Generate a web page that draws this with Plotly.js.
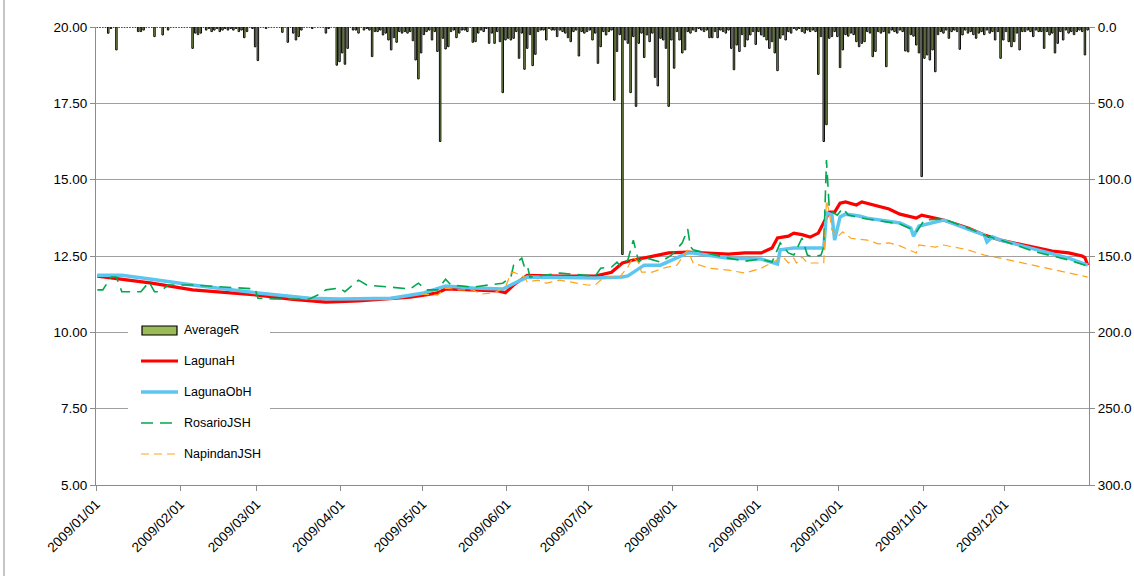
<!DOCTYPE html>
<html>
<head>
<meta charset="utf-8">
<script src="https://cdn.plot.ly/plotly-3.0.1.min.js"></script>
<style>
  html, body { margin: 0; padding: 0; background: #ffffff; }
  #chart { width: 1134px; height: 576px; }
</style>
</head>
<body>
<div id="chart"></div>
<script>
// Daily average rainfall (mm), one array per month of 2009
const rainJan = [0,0,0,0,4.1,1,0,15,0,0,0,0,0,0,0,3,3,2,0,0,0,6.3,0,0,5.2,0,2,0,0,0,0];
const rainFeb = [0,0,0,0,14,4,5,4,0,2,1,3,2,1,3,2,1,2,1,2,1,3,2,7,3,0,1,13];
const rainMar = [22,0,0,1,0,0,0,0,0,3.5,0,10,0,4,8.5,6.3,2,0,0,0,1,0,0,0,0,4,1,0,0,25,22.7];
const rainApr = [17,24.4,14,0,2,2,4,0,2,1,2,19.4,3,3,2,5.2,4,8.5,15,7,10,3,4,3,4,3,9,21.6,34,17];
const rainMay = [5,3,2,8.5,3,16,75,7.4,14.4,12.9,3,2,7,4,2,2,3,0,10,9.6,4,2,3,1,10.7,4,10.7,3,9.6,43,8.5];
const rainJun = [7.4,8.5,7.4,3,20.5,4,27.7,14,5,25.3,17.9,3,2,2,8.5,1,2,2,6.3,2,3,4,7,9.6,3,2,19,3,4,3];
const rainJul = [2,8.5,4,23.8,12.9,3,5.2,3,2,48,16,5,149,8.5,10.7,43,6.3,52,10.7,4,20,5.2,9.6,4,33,38.6,7.4,8.5,14,52,8.5];
const rainAug = [27,3,8.5,17,15,3,4,2,3,1,2,3,2,7,7,3,7,2,3,4,2,14,28,11.8,16,5,12.9,8.5,5.2,3,11.4];
const rainSep = [3,5.2,6.3,8.5,14,9.6,17,28.6,7.4,5.2,8.5,3,4,1,2,1,3,4,2,3,2,3,31,6.3,75,64,7.4,6.3,3,6.3];
const rainOct = [26.6,15,5,6,4,5,9.6,12.9,10.7,9.6,3,4,19.4,16,3,4,3,26,4,2,3,4,2,3,15.7,16.3,5,6,11.8,17,98];
const rainNov = [20.5,18.3,21.6,15,29.3,5,3,4,2,7.4,3,2,3,14.6,5.2,2,4,3,5,7.4,4,3,5,2,4,3,8.5,3,20.5,8.5];
const rainDec = [3,9.6,12.9,9.6,4,15,3,3,2,3,6.3,2,3,3,14,3,5.2,4,17,10.7,3,8.5,2,4,3,5,3,2,3,18.3,2];

// Water levels (m), dated readings (MM-DD of 2009)
const lagunaHDates = ['01-01','01-21','02-05','03-01','03-13','03-26','04-07','04-19','04-26','05-01','05-06','05-09','05-19','05-28','05-31','06-03','06-08','06-20','07-03','07-09','07-13','07-17','07-23','07-30','08-06','08-11','08-21','08-27','09-02','09-06','09-08','09-12','09-14','09-17','09-20','09-23','09-25','09-27','09-29','10-01','10-03','10-07','10-09','10-13','10-19','10-23','10-29','10-31','11-05','11-08','11-17','11-23','11-29','12-06','12-12','12-18','12-24','12-29','12-30','12-31'];
const lagunaHValues = [11.84,11.61,11.39,11.22,11.09,10.99,11.03,11.09,11.15,11.22,11.29,11.42,11.39,11.36,11.30,11.55,11.87,11.84,11.84,11.97,12.27,12.37,12.47,12.60,12.63,12.60,12.56,12.60,12.60,12.76,13.09,13.15,13.25,13.20,13.12,13.25,13.58,13.94,13.94,14.23,14.27,14.17,14.27,14.17,14.04,13.87,13.74,13.84,13.74,13.68,13.42,13.19,13.02,12.89,12.76,12.66,12.60,12.50,12.45,12.20];

const lagunaObHDates = ['01-01','01-10','01-21','02-05','03-01','03-20','03-31','04-19','05-01','05-09','05-19','05-30','06-08','07-03','07-13','07-15','07-21','07-27','08-06','08-08','08-21','09-02','09-08','09-09','09-14','09-25','09-26','09-28','09-29','10-01','10-03','10-08','10-11','10-16','10-23','10-27','10-28','10-30','11-05','11-08','11-17','11-23','11-24','11-26','11-29','12-12','12-24','12-31'];
const lagunaObHValues = [11.87,11.87,11.74,11.55,11.29,11.12,11.09,11.12,11.29,11.52,11.45,11.42,11.81,11.78,11.81,11.85,12.20,12.20,12.60,12.60,12.43,12.40,12.24,12.70,12.76,12.76,13.91,13.85,13.02,13.78,13.87,13.81,13.74,13.68,13.58,13.42,13.15,13.48,13.62,13.68,13.38,13.19,12.96,13.13,13.02,12.70,12.43,12.20];

const rosarioDates = ['01-01','01-03','01-06','01-08','01-10','01-17','01-20','01-22','01-24','01-27','02-05','02-17','02-28','03-01','03-07','03-20','03-23','03-26','03-31','04-02','04-07','04-10','04-19','04-26','04-29','05-02','05-06','05-09','05-11','05-19','05-30','06-02','06-03','06-06','06-07','06-08','06-09','06-14','06-20','07-03','07-05','07-09','07-11','07-12','07-15','07-17','07-19','07-21','07-22','07-27','07-31','08-04','08-06','08-07','08-08','08-21','08-27','09-02','09-06','09-09','09-12','09-14','09-17','09-19','09-21','09-24','09-25','09-26','09-27','09-28','09-30','10-02','10-04','10-11','10-16','10-23','10-28','10-29','11-01','11-08','11-17','11-23','11-29','12-12','12-24','12-31'];
const rosarioValues = [11.39,11.39,11.81,11.81,11.33,11.33,11.65,11.33,11.33,11.55,11.55,11.48,11.42,11.12,11.09,11.09,11.22,11.39,11.45,11.33,11.71,11.55,11.48,11.42,11.61,11.39,11.39,11.74,11.55,11.48,11.61,11.81,12.20,12.43,12.14,12.20,11.81,11.87,11.94,11.84,12.10,12.14,12.30,12.20,12.37,13.02,12.30,12.47,12.43,12.30,12.53,12.93,13.38,12.80,12.70,12.43,12.33,12.40,12.30,12.93,12.60,12.53,13.09,12.53,12.47,12.53,12.80,15.64,14.10,13.94,13.84,14.07,13.84,13.71,13.65,13.55,13.35,13.28,13.68,13.71,13.42,13.19,13.02,12.63,12.37,12.17];

const napindanDates = ['04-30','05-06','05-09','05-14','05-19','05-22','05-27','05-31','06-02','06-03','06-07','06-08','06-12','06-15','06-20','06-24','06-30','07-03','07-05','07-08','07-12','07-15','07-17','07-19','07-20','07-24','07-28','08-02','08-06','08-08','08-14','08-21','08-27','09-02','09-08','09-10','09-12','09-14','09-15','09-17','09-19','09-25','09-26','09-27','09-28','09-30','10-02','10-05','10-11','10-15','10-19','10-23','10-29','10-30','11-05','11-08','11-17','11-23','11-29','12-12','12-24','12-31'];
const napindanValues = [11.25,11.22,11.45,11.39,11.39,11.25,11.30,11.48,11.94,11.97,11.81,11.65,11.71,11.61,11.71,11.65,11.55,11.55,11.71,11.81,11.81,12.14,12.47,12.27,11.97,11.97,12.10,12.20,12.70,12.27,12.10,12.04,11.94,12.10,12.37,12.47,12.27,12.43,12.27,12.47,12.27,12.27,14.33,13.94,13.35,13.12,13.29,13.08,13.02,12.90,12.93,12.83,12.60,12.86,12.79,12.86,12.70,12.53,12.43,12.17,11.94,11.81];

// Month-start tick labels along the date axis
const monthTicks = ['2009-01-01','2009-02-01','2009-03-01','2009-04-01','2009-05-01','2009-06-01',
                    '2009-07-01','2009-08-01','2009-09-01','2009-10-01','2009-11-01','2009-12-01'];

// ---- build traces ----
const monthly = [rainJan, rainFeb, rainMar, rainApr, rainMay, rainJun, rainJul, rainAug, rainSep, rainOct, rainNov, rainDec];
const pad = n => String(n).padStart(2, '0');
const rainX = [], rainY = [];
monthly.forEach((arr, m) => {
  arr.forEach((v, d) => {
    rainX.push('2009-' + pad(m + 1) + '-' + pad(d + 1) + ' 12:00');
    rainY.push(v);
  });
});
const toDates = list => list.map(s => '2009-' + s + ' 12:00');

const traces = [
  {
    type: 'bar', name: 'AverageR', x: rainX, y: rainY, yaxis: 'y2',
    marker: { color: '#9BBB59', line: { color: '#0d0d0d', width: 1 } },
    hoverinfo: 'x+y'
  },
  {
    type: 'scatter', mode: 'lines', name: 'LagunaH',
    x: toDates(lagunaHDates), y: lagunaHValues,
    line: { color: '#FF0000', width: 3.2 }
  },
  {
    type: 'scatter', mode: 'lines', name: 'LagunaObH',
    x: toDates(lagunaObHDates), y: lagunaObHValues,
    line: { color: '#5CC6F0', width: 3.5 }
  },
  {
    type: 'scatter', mode: 'lines', name: 'RosarioJSH',
    x: toDates(rosarioDates), y: rosarioValues,
    line: { color: '#00A84F', width: 1.6, dash: '12px,7px' }
  },
  {
    type: 'scatter', mode: 'lines', name: 'NapindanJSH',
    x: toDates(napindanDates), y: napindanValues,
    line: { color: '#FFA31A', width: 1.2, dash: '8px,5px' }
  }
];

// ---- page-pixel helpers for the legend box ----
const PL = 96, PR = 1089, PT = 27, PB = 485;
const px = X => (X - PL) / (PR - PL);
const py = Y => (PB - Y) / (PB - PT);

const legendRows = [
  { label: 'AverageR', y: 330 },
  { label: 'LagunaH', y: 361 },
  { label: 'LagunaObH', y: 392 },
  { label: 'RosarioJSH', y: 423 },
  { label: 'NapindanJSH', y: 454 }
];

const shapes = [
  // outer chart frame edge
  { type: 'line', xref: 'paper', yref: 'paper', x0: px(4), x1: px(4), y0: py(0), y1: py(576),
    line: { color: '#8c8c8c', width: 1 }, layer: 'above' },
  // legend background
  { type: 'rect', xref: 'paper', yref: 'paper', x0: px(128), x1: px(270), y0: py(470), y1: py(318),
    fillcolor: '#ffffff', line: { width: 0 }, layer: 'above' },
  // legend keys
  { type: 'rect', xref: 'paper', yref: 'paper', x0: px(142), x1: px(177), y0: py(335), y1: py(326),
    fillcolor: '#9BBB59', line: { color: '#000000', width: 1.2 }, layer: 'above' },
  { type: 'line', xref: 'paper', yref: 'paper', x0: px(141), x1: px(178), y0: py(361), y1: py(361),
    line: { color: '#FF0000', width: 3.2 }, layer: 'above' },
  { type: 'line', xref: 'paper', yref: 'paper', x0: px(141), x1: px(178), y0: py(392), y1: py(392),
    line: { color: '#5CC6F0', width: 3.5 }, layer: 'above' },
  { type: 'line', xref: 'paper', yref: 'paper', x0: px(141), x1: px(178), y0: py(423), y1: py(423),
    line: { color: '#00A84F', width: 1.6, dash: '12px,7px' }, layer: 'above' },
  { type: 'line', xref: 'paper', yref: 'paper', x0: px(141), x1: px(178), y0: py(454), y1: py(454),
    line: { color: '#FFA31A', width: 1.2, dash: '8px,5px' }, layer: 'above' }
];

const annotations = legendRows.map(r => ({
  xref: 'paper', yref: 'paper', x: px(182), y: py(r.y),
  xanchor: 'left', yanchor: 'middle', showarrow: false,
  text: r.label, font: { family: 'Liberation Sans, Arial, sans-serif', size: 12.5, color: '#000000' }
}));

const axisFont = { family: 'Liberation Sans, Arial, sans-serif', size: 13.5, color: '#000000' };

const layout = {
  width: 1134, height: 576,
  margin: { l: PL, r: 1134 - PR, t: PT, b: 576 - PB, pad: 0 },
  paper_bgcolor: '#ffffff', plot_bgcolor: '#ffffff',
  showlegend: false,
  bargap: 0.45,
  xaxis: {
    type: 'date', range: ['2009-01-01', '2010-01-01'],
    tickmode: 'array', tickvals: monthTicks, tickformat: '%Y/%m/%d',
    tickangle: -45, tickfont: axisFont,
    ticks: 'outside', ticklen: 5, tickcolor: '#8c8c8c',
    showline: true, linecolor: '#8c8c8c', linewidth: 1,
    showgrid: false, zeroline: false
  },
  yaxis: {
    range: [5, 20], dtick: 2.5, tick0: 5, tickformat: '.2f', tickfont: axisFont,
    ticks: 'outside', ticklen: 5, tickcolor: '#8c8c8c',
    showline: true, linecolor: '#8c8c8c', linewidth: 1,
    showgrid: true, gridcolor: '#a0a0a0', gridwidth: 1, zeroline: false
  },
  yaxis2: {
    overlaying: 'y', side: 'right', range: [300, 0], dtick: 50, tick0: 0,
    tickformat: '.1f', tickfont: axisFont,
    ticks: 'outside', ticklen: 5, tickcolor: '#8c8c8c',
    showline: true, linecolor: '#8c8c8c', linewidth: 1,
    showgrid: false, zeroline: false
  },
  shapes: shapes,
  annotations: annotations
};

Plotly.newPlot('chart', traces, layout, { staticPlot: true, displayModeBar: false });
</script>
</body>
</html>
